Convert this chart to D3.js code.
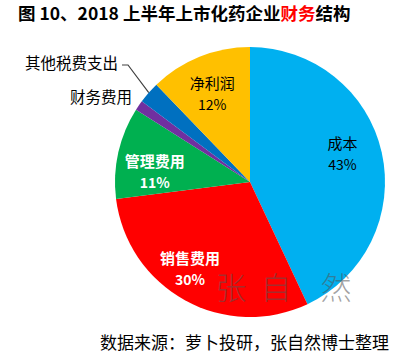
<!DOCTYPE html>
<html><head><meta charset="utf-8">
<script src="https://cdn.jsdelivr.net/npm/d3@7"></script>
<style>
body{margin:0;background:#fff;}
svg{display:block;}
text{font-family:"Noto Sans CJK SC","Noto Sans",sans-serif;}
</style></head>
<body>
<script>
const categories = ["成本","销售费用","管理费用","财务费用","其他税费支出","净利润"];
const values = [43, 30, 11, 1.2, 2.6, 12.2];
const pctLabels = ["43%","30%","11%","","","12%"];
const colors = ["#00B0F0","#FF0000","#00B050","#7030A0","#0070C0","#FFC000"];

const W=410,H=358, cx=250, cy=182, R=135;
const svg=d3.select("body").append("svg").attr("width",W).attr("height",H);

// title
const title=svg.append("text").attr("x",18).attr("y",20).attr("font-size",17.5).attr("font-weight",700).attr("fill","#000");
title.append("tspan").text("图 10、2018 上半年上市化药企业");
title.append("tspan").attr("fill","#FF0000").text("财务");
title.append("tspan").text("结构");

const pie=d3.pie().sort(null).value(d=>d);
const arcs=pie(values);
const arc=d3.arc().innerRadius(0).outerRadius(R);
const g=svg.append("g").attr("transform",`translate(${cx},${cy})`);
g.selectAll("path").data(arcs).join("path").attr("d",arc).attr("fill",(d,i)=>colors[i]);

// inside labels
const inStyle={
  0:{r:97,da:-5,fill:"#000",bold:400},
  1:{r:105,da:6,fill:"#fff",bold:700},
  2:{r:96,da:-6,fill:"#fff",bold:700},
  5:{r:97,da:-1,fill:"#000",bold:400}
};
arcs.forEach((d,i)=>{
  const s=inStyle[i]; if(!s) return;
  const a=(d.startAngle+d.endAngle)/2 + s.da*Math.PI/180;
  const x=s.r*Math.sin(a), y=-s.r*Math.cos(a);
  g.append("text").attr("x",x).attr("y",y-4).attr("text-anchor","middle")
   .attr("font-size",15).attr("font-weight",s.bold).attr("fill",s.fill).text(categories[i]);
  g.append("text").attr("x",x).attr("y",y+17).attr("text-anchor","middle")
   .attr("font-size",14).attr("font-weight",s.bold).attr("fill",s.fill).text(pctLabels[i]);
});

// outside labels
const mid=d=>(d.startAngle+d.endAngle)/2;
const pOther=arcs[4], aO=mid(pOther);
const ex=cx+R*Math.sin(aO), ey=cy-R*Math.cos(aO);
svg.append("path").attr("d",`M${122},${65} L${128},${65} L${ex},${ey}`)
  .attr("fill","none").attr("stroke","#404040").attr("stroke-width",1.2);
svg.append("text").attr("x",118).attr("y",69).attr("text-anchor","end").attr("font-size",15.5).attr("fill","#000").text(categories[4]);
svg.append("text").attr("x",132).attr("y",103).attr("text-anchor","end").attr("font-size",15.5).attr("fill","#000").text(categories[3]);

// watermark
const wm=["张","自","然"];
const wmX=[231,276,336];
wm.forEach((c,i)=>svg.append("text").attr("x",wmX[i]).attr("y",299).attr("text-anchor","middle")
  .attr("font-size",31).attr("font-weight",300).attr("fill","#555").attr("fill-opacity",0.55).text(c));

// source
svg.append("text").attr("x",100).attr("y",349).attr("font-size",17).attr("fill","#000").text("数据来源：萝卜投研，张自然博士整理");
</script>
</body></html>
